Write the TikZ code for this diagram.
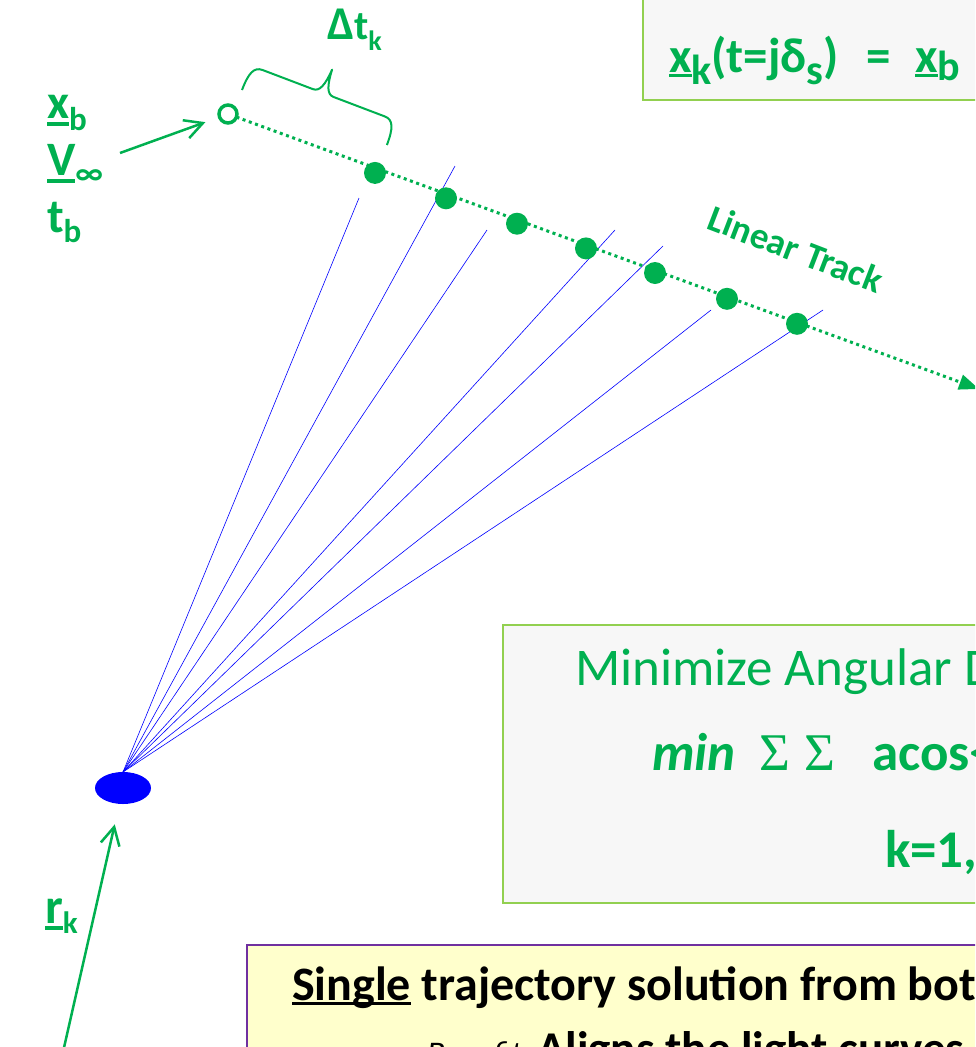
\documentclass[tikz,border=0pt]{standalone}
\usepackage{fontspec}
\setmainfont{Carlito}
\newfontfamily\serfam{Liberation Serif}
\usetikzlibrary{arrows.meta,shapes.geometric}
\definecolor{cgreen}{HTML}{00B050}
\definecolor{lgreen}{HTML}{92D050}
\definecolor{boxgrey}{HTML}{F7F7F7}
\definecolor{pyellow}{HTML}{FFFFCC}
\definecolor{ppurple}{HTML}{7030A0}
\newsavebox\ulbox
\newcommand\fs[1]{\fontsize{#1}{#1}\selectfont}
% underline: offset, thickness, text
\newcommand\ulx[3]{\sbox\ulbox{#3}\rlap{\rule[#1]{\wd\ulbox}{#2}}\usebox\ulbox}
% lowered subscript: size, drop, text
\newcommand\lsub[3]{\raisebox{-#2}{\fs{#1}#3}}
\begin{document}
\begin{tikzpicture}[x=1pt,y=-1pt,
  every node/.style={inner sep=0pt, outer sep=0pt},
  lbl/.style={text=cgreen, anchor=base west},
  sightline/.style={draw=blue, line width=0.6pt},
  greybox/.style={draw=lgreen, line width=2.5pt, fill=boxgrey},
  yelbox/.style={draw=ppurple, line width=2.5pt, fill=pyellow},
  gdot/.style={circle, fill=cgreen, minimum size=22pt},
  opencirc/.style={circle, draw=cgreen, line width=3.5pt, fill=white, minimum size=18pt},
  track/.style={draw=cgreen, line width=3pt, dash pattern=on 3pt off 3.6pt, -{Triangle[length=20pt,width=15pt]}},
  garrow/.style={draw=cgreen, line width=2.5pt, -{Straight Barb[length=18pt,width=19pt,line width=2.5pt]}},
  brc/.style={draw=cgreen, line width=2pt, line join=round}
]
\useasboundingbox (0,0) rectangle (975,1047);
\begin{scope}
\clip (0,0) rectangle (975,1047);

% boxes
\draw[greybox] (643,-10) rectangle (1000,100);
\draw[greybox] (503,625) rectangle (1000,903);
\draw[yelbox] (247,945) rectangle (1000,1070);

% observer and sight lines
\node[ellipse, fill=blue, minimum width=56pt, minimum height=32pt] (obs) at (123,788) {};
\foreach \i/\xx/\yy in {1/359/198,2/455/166,3/487/230,4/615/230,5/663/246,6/711/310,7/823/310}
  {\coordinate (ray\i) at (\xx,\yy);
   \draw[sightline] (obs.north) -- (ray\i);}

% linear track
\node[opencirc] (c0) at (228,114) {};
\coordinate (tipT) at (979,389);
\draw[track] (c0) -- (tipT);
\foreach \i/\xx/\yy in {1/375/172.9,2/446/198.3,3/517/223.7,4/586/248.4,5/655/273,6/727/298.8,7/797/323.8}
  {\node[gdot] (d\i) at (\xx,\yy) {};}

% brace
\begin{scope}[shift={(242,90)}, rotate=-20.8, y=1pt]
  \draw[brc] (0,0) .. controls (0,18) and (3,26) .. (12,26) -- (66,26)
    .. controls (73,26) and (76,34) .. (77,51)
    .. controls (78,34) and (81,26) .. (88,26) -- (143,26)
    .. controls (152,26) and (155,18) .. (155,0);
\end{scope}
\node[lbl, font=\bfseries\fs{47}] (dt) at (327,39) {Δ\fs{41}t\lsub{28}{11pt}{k}};

% initial state labels
\node[lbl, font=\bfseries\fs{48}] (xb) at (47,118) {\ulx{-8pt}{4pt}{x}\lsub{33}{12pt}{b}};
\node[lbl, font=\bfseries\fs{48}] (vinf) at (47,175) {\ulx{-7.5pt}{4pt}{V}\lsub{33}{9pt}{∞}};
\node[lbl, font=\bfseries\fs{48}] (tb) at (47,232) {t\lsub{33}{10pt}{b}};
\coordinate (lblarr) at (120,153);
\draw[garrow, shorten >=15pt] (lblarr) -- (c0);

% r_k
\node[lbl, font=\bfseries\fs{50}] (rk) at (45,923) {\ulx{-7pt}{4pt}{r}\lsub{31}{10pt}{k}};
\coordinate (rbase) at (63,1052);
\draw[garrow, shorten >=21pt] (rbase) -- (obs);

% Linear Track label
\node[text=cgreen, font=\bfseries\fs{37}, rotate=-21] (lt) at (796,249) {Linear Track};

% top equation
\node[lbl, font=\bfseries\fs{49}] (eqL) at (669,72) {\ulx{-5pt}{3.5pt}{x}\lsub{42}{12pt}{k}(t=jδ\lsub{42}{12pt}{s})};
\node[lbl, font=\bfseries\fs{49}] (eqE) at (866,72) {=};
\node[lbl, font=\bfseries\fs{49}] (eqR) at (915,72) {\ulx{-5pt}{3.5pt}{x}\lsub{42}{8pt}{b}};

% minimize box
\node[lbl, font=\fs{53}] (minhead) at (575,685) {Minimize Angular D};
\node[lbl, font=\bfseries\itshape\fs{53}] (minw) at (652,770) {min};
\node[lbl, font=\serfam\fs{53}] (sig1) at (759,770) {Σ};
\node[lbl, font=\serfam\fs{53}] (sig2) at (804,770) {Σ};
\node[lbl, font=\bfseries\fs{53}] (acos) at (872,770) {acos<};
\node[lbl, font=\bfseries\fs{53}] (krange) at (885,867) {k=1,};

% yellow box
\node[anchor=base west, font=\bfseries\fs{48}] (single) at (292,1000) {\ulx{-5pt}{3pt}{Single} trajectory solution from bot};
\node[anchor=base west, font=\itshape\fs{33}] (benefit) at (427,1064) {Benefit:};
\node[anchor=base west, font=\bfseries\fs{47}] (aligns) at (537,1064) {Aligns the light curves};
\end{scope}
\end{tikzpicture}
\end{document}
